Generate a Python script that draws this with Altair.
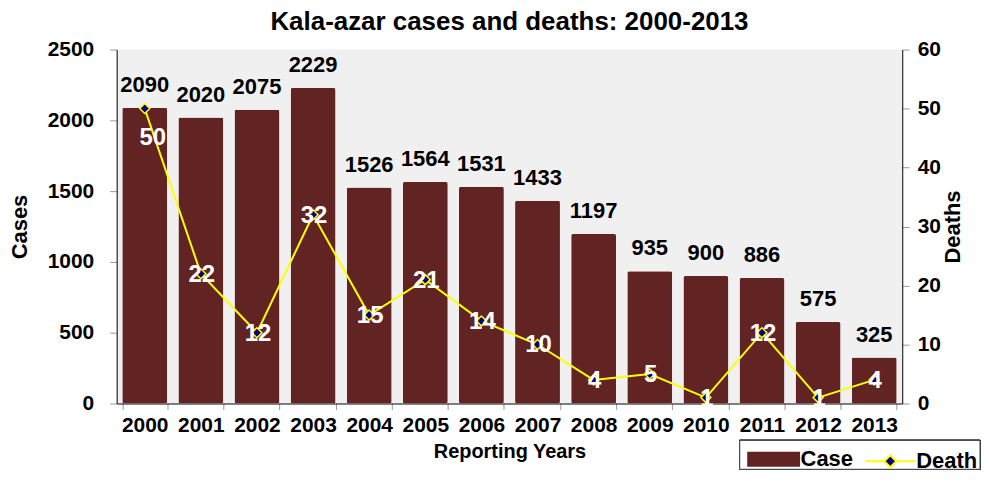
import altair as alt
import pandas as pd

years = ["2000", "2001", "2002", "2003", "2004", "2005", "2006",
         "2007", "2008", "2009", "2010", "2011", "2012", "2013"]
cases = [2090, 2020, 2075, 2229, 1526, 1564, 1531, 1433, 1197, 935, 900, 886, 575, 325]
deaths = [50, 22, 12, 32, 15, 21, 14, 10, 4, 5, 1, 12, 1, 4]

df = pd.DataFrame({"year": years, "cases": cases, "deaths": deaths})

FONT = "Liberation Sans"
BAR = "#622323"
LINE = "#ffff00"
NAVY = "#000080"

base = alt.Chart(df)
x = alt.X("year:N", sort=years,
          scale=alt.Scale(paddingInner=0.2, paddingOuter=0.1),
          axis=alt.Axis(title="Reporting Years", labelAngle=0, tickBand="extent",
                        labelFontSize=21, labelFontWeight="bold", labelColor="black",
                        titleFontSize=20, titleFontWeight="bold", titlePadding=6,
                        titleColor="black", domainColor="black", tickColor="#999999",
                        tickSize=6, labelPadding=5))

yl = alt.Y("cases:Q", scale=alt.Scale(domain=[0, 2500], nice=False),
           axis=alt.Axis(title="Cases", values=[0, 500, 1000, 1500, 2000, 2500],
                         format="d", grid=False, labelFontSize=21, labelFontWeight="bold",
                         labelColor="black", titleFontSize=22, titleFontWeight="bold",
                         titleColor="black", titlePadding=16, domainColor="black",
                         tickColor="#999999", tickSize=7, labelPadding=16))

bars = base.mark_bar(color=BAR, cornerRadius=2).encode(
    x=x, y=yl,
    fill=alt.Fill("s:N", scale=alt.Scale(domain=["Case"], range=[BAR]),
                  legend=alt.Legend(title=None, orient="none", legendX=648, legendY=400,
                                    padding=0,
                                    symbolType="M-2.79,-0.79H2.79V0.79H-2.79Z", symbolSize=361,
                                    symbolStrokeWidth=0, labelFontSize=22,
                                    labelFontWeight="bold", labelColor="black",
                                    labelFont=FONT, labelOffset=16)),
).transform_calculate(s="'Case'")

bar_text = base.mark_text(fontSize=22, fontWeight="bold", color="black",
                          baseline="middle", dy=-23, font=FONT).encode(
    x=x, y=yl, text="cases:Q")

left = alt.layer(bars, bar_text)

yr = alt.Y("deaths:Q", scale=alt.Scale(domain=[0, 60], nice=False),
           axis=alt.Axis(title="Deaths", orient="right", values=[0, 10, 20, 30, 40, 50, 60],
                         grid=False, labelFontSize=21, labelFontWeight="bold",
                         labelColor="black", titleFontSize=22, titleFontWeight="bold",
                         titleColor="black", titleAngle=270, titlePadding=24,
                         domainColor="black", tickColor="#999999", tickSize=7,
                         labelPadding=8))

line = base.mark_line(color=LINE, strokeWidth=2).encode(
    x=x, y=yr,
    stroke=alt.Stroke("s:N", scale=alt.Scale(domain=["Death"], range=[LINE]),
                      legend=alt.Legend(title=None, orient="none", legendX=765, legendY=402,
                                        padding=0,
                                        symbolType="M-4.17,0H-1M1,0H4.17M0,-1L1,0L0,1L-1,0Z",
                                        symbolSize=144, symbolStrokeWidth=2,
                                        symbolFillColor=NAVY,
                                        labelFontSize=22, labelFontWeight="bold",
                                        labelColor="black", labelFont=FONT, labelOffset=15)),
).transform_calculate(s="'Death'")

points = base.mark_point(shape="diamond", filled=True, fill=NAVY, stroke=LINE,
                         strokeWidth=1.5, size=100, opacity=1).encode(x=x, y=yr)

death_text_top = base.mark_text(fontSize=24, fontWeight="bold", color="white",
                                baseline="middle", dx=8, dy=30, font=FONT).encode(
    x=x, y=yr, text="deaths:Q").transform_filter("datum.deaths >= 50")
death_text = base.mark_text(fontSize=24, fontWeight="bold", color="white",
                            baseline="middle", dx=1, dy=1, font=FONT).encode(
    x=x, y=yr, text="deaths:Q").transform_filter("datum.deaths < 50")

box = alt.Chart(df).mark_rect(fill="white", stroke="#404040", strokeWidth=1).encode(
    x=alt.value(625), x2=alt.value(866), y=alt.value(392), y2=alt.value(421))

right = alt.layer(line, points, death_text_top, death_text)

chart = alt.layer(box, left, right).resolve_scale(y="independent").properties(
    width=788, height=355, padding=0,
    title=alt.TitleParams("Kala-azar cases and deaths: 2000-2013", fontSize=26,
                          fontWeight="bold", font=FONT, color="black", offset=4),
).configure(font=FONT).configure_view(fill="#f0f0f0", stroke=None)

chart.save("out.html", embed_options={"renderer": "svg", "actions": False})
